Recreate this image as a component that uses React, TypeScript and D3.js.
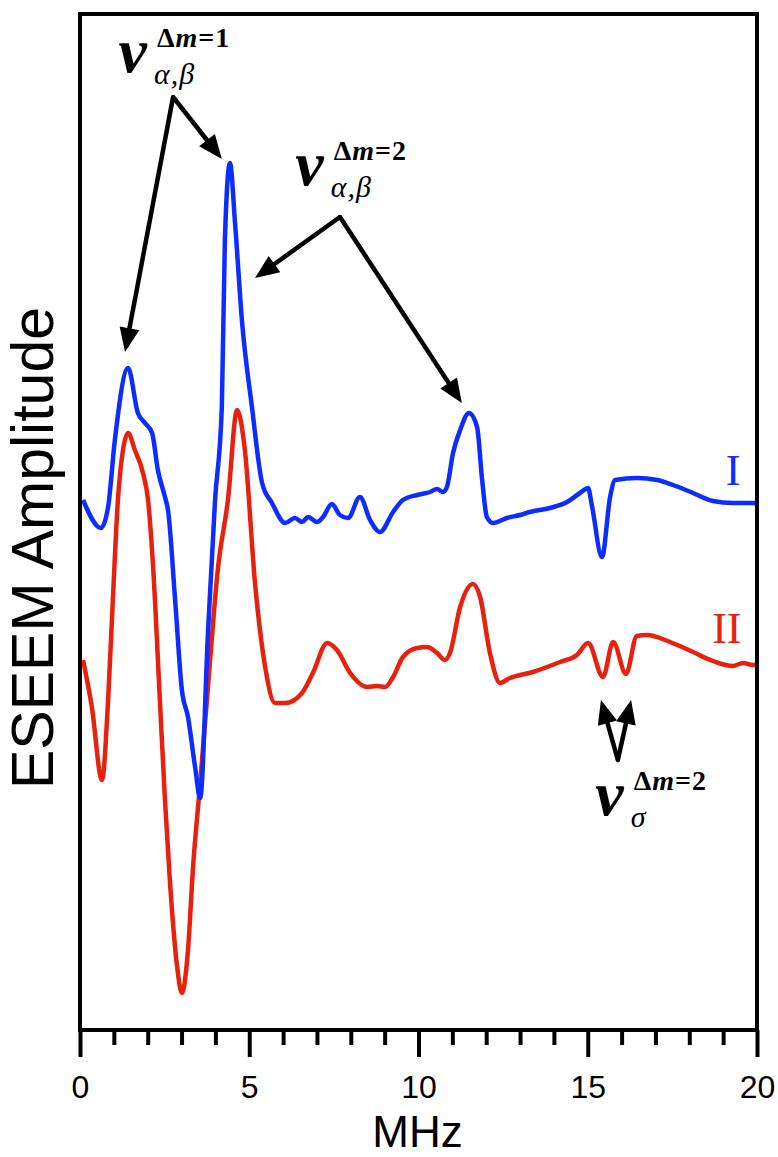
import { useEffect, useRef } from "react";
import * as d3 from "d3";

// spectrum I (blue), frequency in MHz and amplitude (arb. units)
const freqI = [0.09, 0.62, 0.83, 1.03, 1.42, 1.71, 1.92, 2.13, 2.3, 2.51, 2.6, 2.81, 3.01, 3.19, 3.4, 3.55, 3.78, 3.99, 4.19, 4.28, 4.43, 4.58, 4.79, 5.08, 5.38, 5.67, 6.06, 6.35, 6.56, 6.74, 7.0, 7.18, 7.44, 7.68, 7.92, 8.27, 8.57, 8.86, 9.25, 9.54, 9.96, 10.34, 10.55, 10.72, 10.84, 11.02, 11.23, 11.49, 11.73, 11.88, 12.02, 12.2, 12.61, 13.0, 13.29, 13.88, 14.39, 14.77, 15.01, 15.12, 15.42, 15.66, 15.81, 16.45, 17.05, 17.52, 18.11, 18.7, 19.29, 19.88, 20.0];
const ampI = [53.0, 50.2, 52.3, 59.0, 66.2, 61.7, 60.7, 59.7, 56.0, 53.3, 52.0, 43.0, 34.0, 31.3, 26.3, 23.2, 39.7, 53.0, 62.3, 79.0, 86.7, 80.7, 70.7, 62.3, 54.7, 52.7, 50.7, 51.2, 50.8, 51.3, 50.8, 51.3, 52.6, 51.5, 51.2, 53.3, 51.0, 49.8, 51.8, 53.0, 53.5, 53.8, 54.1, 53.8, 54.3, 57.7, 60.0, 61.7, 60.3, 55.0, 51.3, 50.7, 51.2, 51.5, 51.8, 52.2, 52.8, 53.7, 54.2, 52.5, 47.3, 53.3, 55.0, 55.2, 55.0, 54.5, 53.7, 52.9, 52.7, 52.7, 52.7];

// spectrum II (red)
const freqII = [0.09, 0.35, 0.65, 0.83, 0.97, 1.12, 1.27, 1.42, 1.62, 1.86, 2.01, 2.16, 2.36, 2.51, 2.66, 2.87, 3.01, 3.19, 3.34, 3.55, 3.75, 4.08, 4.37, 4.64, 4.87, 5.17, 5.47, 5.76, 6.06, 6.56, 6.88, 7.3, 7.59, 7.98, 8.48, 8.77, 9.01, 9.25, 9.54, 9.96, 10.25, 10.55, 10.78, 10.93, 11.23, 11.61, 11.82, 12.11, 12.41, 12.7, 13.38, 14.18, 14.68, 15.01, 15.45, 15.75, 16.13, 16.45, 16.75, 17.43, 18.11, 18.7, 19.29, 19.59, 19.88, 20.0];
const ampII = [37.0, 32.3, 25.0, 33.0, 43.0, 53.0, 58.0, 59.7, 58.0, 55.7, 53.0, 46.3, 33.0, 23.0, 14.7, 6.3, 3.7, 8.0, 16.3, 24.7, 33.0, 46.3, 53.0, 62.0, 58.0, 44.7, 36.3, 32.7, 32.7, 33.7, 35.7, 38.7, 38.0, 35.7, 34.3, 34.4, 34.3, 35.3, 37.3, 38.2, 38.3, 37.7, 37.0, 37.7, 42.3, 44.6, 43.3, 37.7, 34.7, 35.2, 35.8, 36.8, 37.5, 38.7, 35.3, 38.8, 35.6, 39.4, 39.5, 38.8, 37.8, 36.9, 36.4, 36.7, 36.5, 36.5];

const majorTicks = [0, 5, 10, 15, 20];
const minorTicks = [1, 2, 3, 4, 6, 7, 8, 9, 11, 12, 13, 14, 16, 17, 18, 19];

// arrow annotations: apex then tips, in data units (MHz, amplitude)
const arrowDm1 = [[2.75, 93.3], [1.33, 67.8], [4.19, 87.1]];
const arrowDm2 = [[7.68, 81.3], [5.17, 75.2], [11.28, 62.7]];
const arrowSigma = [[15.89, 27.0], [15.39, 33.0], [16.28, 33.0]];

export default function App() {
    const ref = useRef<SVGSVGElement>(null);

    useEffect(() => {
        document.body.style.margin = "0";
        const svg = d3.select(ref.current);
        svg.selectAll("*").remove();

        const left = 80, right = 757, top = 14, bottom = 1030;

        const x = d3.scaleLinear().domain([0, 20]).range([left, right]);
        const y = d3.scaleLinear().domain([0, 101.6]).range([bottom, top]);

        const serif = "'Liberation Serif', 'Times New Roman', serif";
        const sans = "'Liberation Sans', Arial, sans-serif";

        const line = d3.line<[number, number]>()
            .x(d => x(d[0]))
            .y(d => y(d[1]))
            .curve(d3.curveMonotoneX);

        const drawSeries = (fx: number[], fy: number[], color: string) => {
            svg.append("path")
                .datum(fx.map((f, i) => [f, fy[i]] as [number, number]))
                .attr("d", line)
                .attr("fill", "none")
                .attr("stroke", color)
                .attr("stroke-width", 4.5)
                .attr("stroke-linejoin", "round");
        };

        drawSeries(freqII, ampII, "#e8200e");
        drawSeries(freqI, ampI, "#0d2cff");

        // frame
        svg.append("rect")
            .attr("x", left).attr("y", top)
            .attr("width", right - left).attr("height", bottom - top)
            .attr("fill", "none").attr("stroke", "#000").attr("stroke-width", 4);

        // minor ticks
        svg.append("g")
            .attr("transform", `translate(0,${bottom})`)
            .call(d3.axisBottom(x).tickValues(minorTicks).tickSize(15).tickFormat(() => ""))
            .call(g => g.select(".domain").remove())
            .call(g => g.selectAll("line").attr("stroke", "#000").attr("stroke-width", 4));

        // major ticks + labels
        svg.append("g")
            .attr("transform", `translate(0,${bottom})`)
            .call(d3.axisBottom(x).tickValues(majorTicks).tickSize(27).tickPadding(18).tickFormat(d3.format("d")))
            .call(g => g.select(".domain").remove())
            .call(g => g.selectAll("line").attr("stroke", "#000").attr("stroke-width", 4))
            .call(g => g.selectAll("text")
                .attr("fill", "#000")
                .style("font-family", sans)
                .style("font-size", "32px"));

        // axis titles
        svg.append("text")
            .attr("x", (left + right) / 2 - 1)
            .attr("y", 1147)
            .attr("text-anchor", "middle")
            .style("font-family", sans)
            .style("font-size", "44px")
            .text("MHz");

        svg.append("text")
            .attr("transform", `translate(53,548) rotate(-90)`)
            .attr("text-anchor", "middle")
            .style("font-family", sans)
            .style("font-size", "59px")
            .text("ESEEM Amplitude");

        // arrows
        const drawArrows = (a: number[][]) => {
            const ax = x(a[0][0]), ay = y(a[0][1]);
            a.slice(1).forEach(t => {
                const tx = x(t[0]), ty = y(t[1]);
                const dx = tx - ax, dy = ty - ay;
                const len = Math.hypot(dx, dy);
                const ux = dx / len, uy = dy / len;
                const hl = 24, hw = 10;
                const bx = tx - ux * hl, by = ty - uy * hl;
                svg.append("path")
                    .attr("d", `M${ax},${ay}L${bx + ux * 3},${by + uy * 3}`)
                    .attr("stroke", "#000").attr("stroke-width", 4.5)
                    .attr("fill", "none");
                svg.append("path")
                    .attr("d", `M${tx},${ty}L${bx - uy * hw},${by + ux * hw}L${bx + uy * hw},${by - ux * hw}Z`)
                    .attr("fill", "#000");
            });
            // joint at the apex
            svg.append("circle").attr("cx", ax).attr("cy", ay).attr("r", 2.2).attr("fill", "#000");
        };
        drawArrows(arrowDm1);
        drawArrows(arrowDm2);
        drawArrows(arrowSigma);

        // nu labels: ν right edge at fx, baseline at fy
        const nuLabel = (fx: number, fy: number, sup: string, sub: string) => {
            const px = x(fx), py = y(fy);
            const g = svg.append("g").style("font-family", serif).attr("fill", "#000");
            g.append("text")
                .attr("x", px).attr("y", py)
                .attr("text-anchor", "end")
                .style("font-size", "64px").style("font-weight", "bold").style("font-style", "italic")
                .text("ν");
            const t = g.append("text")
                .attr("x", px + 10).attr("y", py - 25)
                .style("font-size", "28px").style("font-weight", "bold")
                .attr("letter-spacing", 1);
            t.append("tspan").text("Δ");
            t.append("tspan").style("font-style", "italic").text("m");
            t.append("tspan").text(sup);
            g.append("text")
                .attr("x", px + 7).attr("y", py + 12)
                .style("font-size", "30px").style("font-style", "italic")
                .attr("letter-spacing", 1)
                .text(sub);
        };
        nuLabel(1.98, 95.8, "=1", "α,β");
        nuLabel(7.2, 84.5, "=2", "α,β");
        nuLabel(16.06, 21.5, "=2", "σ");

        // spectrum labels
        svg.append("text")
            .attr("x", x(19.29)).attr("y", y(54.5))
            .attr("text-anchor", "middle")
            .style("font-family", serif).style("font-size", "44px")
            .attr("fill", "#0d2cff")
            .text("I");
        svg.append("text")
            .attr("x", x(19.11)).attr("y", y(38.7))
            .attr("text-anchor", "middle")
            .style("font-family", serif).style("font-size", "44px")
            .attr("fill", "#e8200e")
            .text("II");
    }, []);

    return <svg ref={ref} width={778} height={1157} style={{ display: "block", background: "#fff" }} />;
}
